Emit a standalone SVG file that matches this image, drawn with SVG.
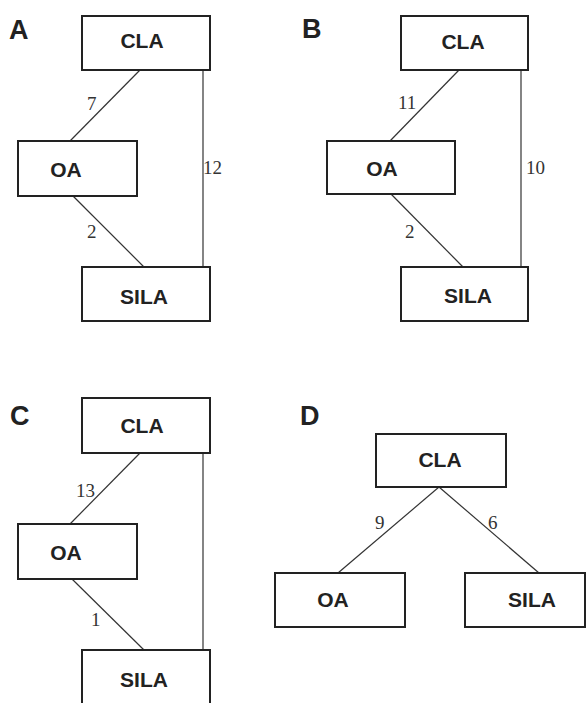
<svg xmlns="http://www.w3.org/2000/svg" width="586" height="703" viewBox="0 0 586 703">
<style>
.box{fill:#fff;stroke:#222;stroke-width:2}
.lbl{font-family:"Liberation Sans",Arial,sans-serif;font-weight:bold;font-size:21px;fill:#222;text-anchor:middle}
.pl{font-family:"Liberation Sans",Arial,sans-serif;font-weight:bold;font-size:27px;fill:#222}
.num{font-family:"Liberation Serif","Times New Roman",serif;font-size:19px;fill:#333}
.edge{stroke:#333;stroke-width:1.2;fill:none}
</style>
<rect width="586" height="703" fill="#fff"/>
<g id="connectors">
<line class="edge" x1="140" y1="70" x2="70" y2="141"/>
<line class="edge" x1="73" y1="196" x2="144" y2="267"/>
<line class="edge" x1="203" y1="70" x2="203" y2="267"/>
<line class="edge" x1="459" y1="70" x2="390" y2="141"/>
<line class="edge" x1="391" y1="194" x2="463" y2="267"/>
<line class="edge" x1="521" y1="70" x2="521" y2="267"/>
<line class="edge" x1="140" y1="453" x2="70" y2="524"/>
<line class="edge" x1="72" y1="579" x2="144" y2="650"/>
<line class="edge" x1="203" y1="453" x2="203" y2="650"/>
<line class="edge" x1="439" y1="487" x2="338" y2="573"/>
<line class="edge" x1="439" y1="487" x2="539" y2="573"/>
<text class="num" x="87" y="110">7</text>
<text class="num" x="87" y="238">2</text>
<text class="num" x="203" y="174">12</text>
<text class="num" x="398" y="109">11</text>
<text class="num" x="405" y="238">2</text>
<text class="num" x="526" y="174">10</text>
<text class="num" x="76" y="497">13</text>
<text class="num" x="91" y="626">1</text>
<text class="num" x="375" y="529">9</text>
<text class="num" x="488" y="529">6</text>
</g>
<text class="pl" x="9" y="39">A</text>
<text class="pl" x="302" y="38">B</text>
<text class="pl" x="10" y="425">C</text>
<text class="pl" x="300" y="425">D</text>
<g id="A-CLA"><rect class="box" x="82" y="16" width="128" height="54"/><text class="lbl" x="142" y="48">CLA</text></g>
<g id="A-OA"><rect class="box" x="18" y="141" width="119" height="55"/><text class="lbl" x="66" y="177">OA</text></g>
<g id="A-SILA"><rect class="box" x="82" y="267" width="128" height="54"/><text class="lbl" x="144" y="304">SILA</text></g>
<g id="B-CLA"><rect class="box" x="401" y="16" width="127" height="54"/><text class="lbl" x="463" y="49">CLA</text></g>
<g id="B-OA"><rect class="box" x="327" y="141" width="128" height="53"/><text class="lbl" x="382" y="176">OA</text></g>
<g id="B-SILA"><rect class="box" x="401" y="267" width="127" height="54"/><text class="lbl" x="468" y="303">SILA</text></g>
<g id="C-CLA"><rect class="box" x="82" y="398" width="128" height="55"/><text class="lbl" x="142" y="433">CLA</text></g>
<g id="C-OA"><rect class="box" x="18" y="524" width="119" height="55"/><text class="lbl" x="66" y="560">OA</text></g>
<g id="C-SILA"><rect class="box" x="82" y="650" width="128" height="56"/><text class="lbl" x="144" y="687">SILA</text></g>
<g id="D-CLA"><rect class="box" x="376" y="434" width="130" height="53"/><text class="lbl" x="440" y="467">CLA</text></g>
<g id="D-OA"><rect class="box" x="275" y="573" width="130" height="54"/><text class="lbl" x="333" y="607">OA</text></g>
<g id="D-SILA"><rect class="box" x="465" y="573" width="120" height="54"/><text class="lbl" x="532" y="607">SILA</text></g>
</svg>
